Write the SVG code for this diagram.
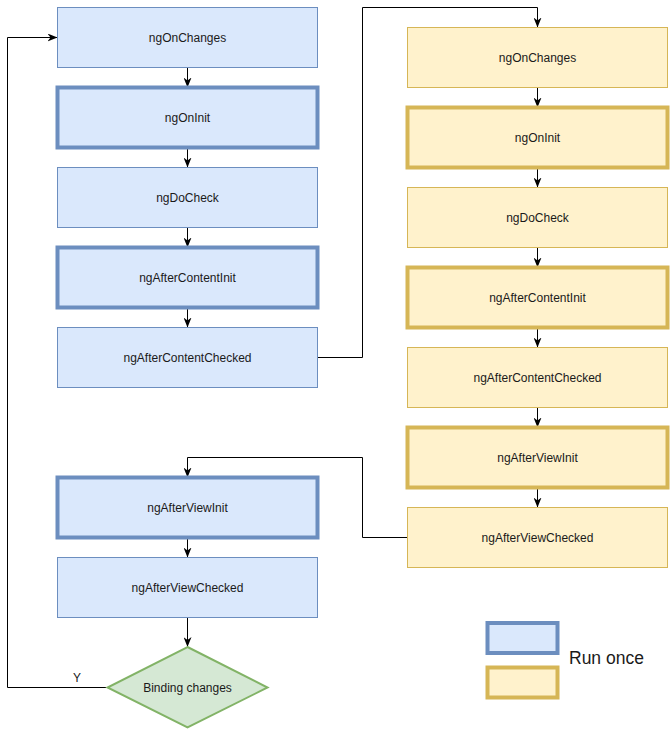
<svg xmlns="http://www.w3.org/2000/svg" width="670" height="729" viewBox="0 0 670 729">
<style>
.b{fill:#dae8fc;stroke:#6c8ebf;stroke-width:1}
.bt{fill:#dae8fc;stroke:#6c8ebf;stroke-width:4}
.y{fill:#fff2cc;stroke:#d6b656;stroke-width:1}
.yt{fill:#fff2cc;stroke:#d6b656;stroke-width:4}
.d{fill:#d5e8d4;stroke:#82b366;stroke-width:2}
text{font-family:"Liberation Sans",Arial,sans-serif;font-size:12px;fill:#1a1a1a;text-anchor:middle}
.c{fill:none;stroke:#000;stroke-width:1;marker-end:url(#a)}
.cl{fill:none;stroke:#000;stroke-width:1}
</style>
<defs>
<marker id="a" markerUnits="userSpaceOnUse" viewBox="0 0 10 8" markerWidth="10" markerHeight="8" refX="10" refY="4" orient="auto">
<path d="M0,0 L10,4 L0,8 L3,4 Z" fill="#000"/>
</marker>
</defs>
<g id="connectors">
<path class="c" d="M187.5,67.5 V87.5"/>
<path class="c" d="M187.5,147.5 V167.5"/>
<path class="c" d="M187.5,227.5 V247.5"/>
<path class="c" d="M187.5,307.5 V327.5"/>
<path class="c" d="M317.5,357.5 H362.5 V7.5 H537.5 V27.5"/>
<path class="c" d="M537.5,87.5 V107.5"/>
<path class="c" d="M537.5,167.5 V187.5"/>
<path class="c" d="M537.5,247.5 V267.5"/>
<path class="c" d="M537.5,327.5 V347.5"/>
<path class="c" d="M537.5,407.5 V427.5"/>
<path class="c" d="M537.5,487.5 V507.5"/>
<path class="c" d="M407.5,537.5 H362.5 V457.5 H187.5 V477.5"/>
<path class="c" d="M187.5,537.5 V557.5"/>
<path class="c" d="M187.5,617.5 V647"/>
<path class="c" d="M107.5,687.5 H7.5 V37.5 H57.5"/>
<text x="77" y="682">Y</text>
</g>
<g id="l1"><rect class="b" x="57.5" y="7.5" width="260" height="60"/><text x="187.5" y="42">ngOnChanges</text></g>
<g id="l2"><rect class="bt" x="57.5" y="87.5" width="260" height="60"/><text x="187.5" y="122">ngOnInit</text></g>
<g id="l3"><rect class="b" x="57.5" y="167.5" width="260" height="60"/><text x="187.5" y="202">ngDoCheck</text></g>
<g id="l4"><rect class="bt" x="57.5" y="247.5" width="260" height="60"/><text x="187.5" y="282">ngAfterContentInit</text></g>
<g id="l5"><rect class="b" x="57.5" y="327.5" width="260" height="60"/><text x="187.5" y="362">ngAfterContentChecked</text></g>
<g id="l6"><rect class="bt" x="57.5" y="477.5" width="260" height="60"/><text x="187.5" y="512">ngAfterViewInit</text></g>
<g id="l7"><rect class="b" x="57.5" y="557.5" width="260" height="60"/><text x="187.5" y="592">ngAfterViewChecked</text></g>
<g id="decision"><path class="d" d="M187.5,647 L267.5,687.5 L187.5,727.5 L107.5,687.5 Z"/><text x="187.5" y="692">Binding changes</text></g>
<g id="r1"><rect class="y" x="407.5" y="27.5" width="260" height="60"/><text x="537.5" y="62">ngOnChanges</text></g>
<g id="r2"><rect class="yt" x="407.5" y="107.5" width="260" height="60"/><text x="537.5" y="142">ngOnInit</text></g>
<g id="r3"><rect class="y" x="407.5" y="187.5" width="260" height="60"/><text x="537.5" y="222">ngDoCheck</text></g>
<g id="r4"><rect class="yt" x="407.5" y="267.5" width="260" height="60"/><text x="537.5" y="302">ngAfterContentInit</text></g>
<g id="r5"><rect class="y" x="407.5" y="347.5" width="260" height="60"/><text x="537.5" y="382">ngAfterContentChecked</text></g>
<g id="r6"><rect class="yt" x="407.5" y="427.5" width="260" height="60"/><text x="537.5" y="462">ngAfterViewInit</text></g>
<g id="r7"><rect class="y" x="407.5" y="507.5" width="260" height="60"/><text x="537.5" y="542">ngAfterViewChecked</text></g>
<g id="legend">
<rect class="bt" x="487.5" y="623" width="70" height="30"/>
<rect class="yt" x="487.5" y="667.5" width="70" height="30"/>
<text x="569" y="664" style="font-size:17.5px;text-anchor:start">Run once</text>
</g>
</svg>
